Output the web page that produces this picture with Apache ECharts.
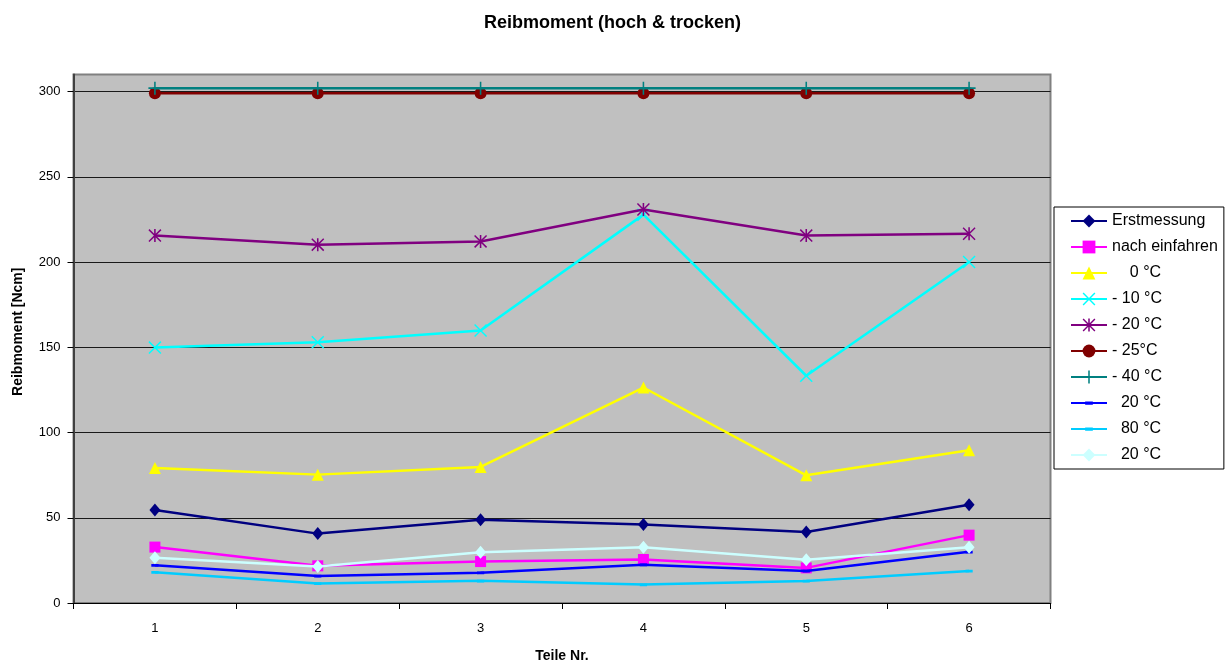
<!DOCTYPE html>
<html>
<head>
<meta charset="utf-8">
<script src="https://cdn.jsdelivr.net/npm/echarts@6/dist/echarts.min.js"></script>
<style>
html,body{margin:0;padding:0;background:#fff;}
#chart{width:1225px;height:664px;}
</style>
</head>
<body>
<div id="chart"></div>
<script>
// ---- data ----
const categories = ['1', '2', '3', '4', '5', '6'];
const yTicks = [0, 50, 100, 150, 200, 250, 300];

const seriesNames = ['Erstmessung', 'nach einfahren', '0 °C', '- 10 °C', '- 20 °C', '- 25°C', '- 40 °C', '20 °C (a)', '80 °C', '20 °C (b)'];
const legendLabels = ['Erstmessung', 'nach einfahren', '    0 °C', '- 10 °C', '- 20 °C', '- 25°C', '- 40 °C', '  20 °C', '  80 °C', '  20 °C'];

const erstmessung   = [54.6, 40.7, 48.8, 46.0, 41.6, 57.6];
const nachEinfahren = [32.8, 21.8, 24.3, 25.5, 20.6, 39.8];
const t0            = [79.2, 75.3, 79.8, 126.4, 74.9, 89.6];
const tMinus10      = [149.8, 152.9, 159.8, 227.8, 133.3, 200.0];
const tMinus20      = [215.5, 210.2, 212.1, 230.8, 215.5, 216.6];
const tMinus25      = [299, 299, 299, 299, 299, 299];
const tMinus40      = [302, 302, 302, 302, 302, 302];
const t20a          = [22.2, 15.8, 17.8, 22.4, 18.8, 30.0];
const t80           = [18.0, 11.5, 13.0, 10.8, 12.9, 18.8];
const t20b          = [26.6, 21.4, 29.8, 32.7, 25.3, 32.7];

const seriesData = [erstmessung, nachEinfahren, t0, tMinus10, tMinus20, tMinus25, tMinus40, t20a, t80, t20b];

// ---- styles ----
const colors = ['#000080', '#ff00ff', '#ffff00', '#00ffff', '#800080', '#800000', '#008080', '#0000ff', '#00ccff', '#ccffff'];
const X_PATH = 'path://M0,0.8 L0.8,0 L10,9.2 L9.2,10 Z M9.2,0 L10,0.8 L0.8,10 L0,9.2 Z';
const AST_PATH = X_PATH + ' M4.4,0 L5.6,0 L5.6,10 L4.4,10 Z';
const PLUS_PATH = 'path://M4.4,0 L5.6,0 L5.6,4.4 L10,4.4 L10,5.6 L5.6,5.6 L5.6,10 L4.4,10 L4.4,5.6 L0,5.6 L0,4.4 L4.4,4.4 Z';
const DASH_PATH = 'path://M0,0 L10,0 Z M2,3.9 L8,3.9 L8,6.4 L2,6.4 Z M0,10 L10,10 Z';
const symbols = ['diamond', 'rect', 'triangle', X_PATH, AST_PATH, 'circle', PLUS_PATH, DASH_PATH, DASH_PATH, 'diamond'];
const symbolSizes = [[11, 13], 11, 12, 13, 13, 12, 13, [12, 11], [12, 11], [11, 13]];

const labelMap = {};
seriesNames.forEach((n, i) => { labelMap[n] = legendLabels[i]; });

const FONT = 'Liberation Sans, Arial, sans-serif';

const chart = echarts.init(document.getElementById('chart'), null, {renderer: 'canvas'});
chart.setOption({
  animation: false,
  backgroundColor: '#ffffff',
  title: {
    text: 'Reibmoment (hoch & trocken)',
    left: 'center', top: 9,
    textStyle: {fontFamily: FONT, fontSize: 18, fontWeight: 'bold', color: '#000'}
  },
  legend: {
    orient: 'vertical',
    left: 1054, top: 207,
    data: seriesNames,
    formatter: n => labelMap[n],
    itemWidth: 36, itemHeight: 16, itemGap: 10,
    padding: [6, 6, 6, 16],
    backgroundColor: '#fff',
    borderColor: '#000', borderWidth: 1,
    textStyle: {fontFamily: FONT, fontSize: 16, color: '#000'},
    selectedMode: false
  },
  grid: {
    left: 73.5, right: 174.5, top: 74.5, bottom: 61,
    show: true, backgroundColor: '#c0c0c0', borderColor: '#808080', borderWidth: 2,
    containLabel: false,
    outerBoundsMode: 'none'
  },
  xAxis: {
    type: 'category',
    data: categories,
    boundaryGap: true,
    name: 'Teile Nr.',
    nameLocation: 'middle',
    nameGap: 46,
    nameTextStyle: {fontFamily: FONT, fontSize: 14, fontWeight: 'bold', color: '#000'},
    axisLine: {lineStyle: {color: '#000', width: 1}},
    axisTick: {show: true, inside: false, length: 6, lineStyle: {color: '#000'}},
    axisLabel: {fontFamily: FONT, fontSize: 13, color: '#000', margin: 19},
    splitLine: {show: false}
  },
  yAxis: {
    type: 'value',
    min: 0, max: 310, interval: 50,
    name: 'Reibmoment [Ncm]',
    nameLocation: 'middle',
    nameGap: 48,
    nameTextStyle: {fontFamily: FONT, fontSize: 14, fontWeight: 'bold', color: '#000', padding: [0, 0, 0, 14]},
    axisLine: {show: true, lineStyle: {color: '#404040', width: 2}},
    axisTick: {show: true, inside: false, length: 6, lineStyle: {color: '#000'}, customValues: yTicks},
    axisLabel: {fontFamily: FONT, fontSize: 13, color: '#000', margin: 13, customValues: yTicks},
    splitLine: {show: true, lineStyle: {color: '#1a1a1a', width: 1}}
  },
  series: seriesNames.map((n, i) => ({
    name: n,
    type: 'line',
    data: seriesData[i],
    symbol: symbols[i],
    symbolSize: symbolSizes[i],
    showAllSymbol: true,
    lineStyle: {color: colors[i], width: 2.5},
    itemStyle: {color: colors[i], borderWidth: 0},
    emphasis: {disabled: true},
    z: 2 + i
  }))
});
</script>
</body>
</html>
